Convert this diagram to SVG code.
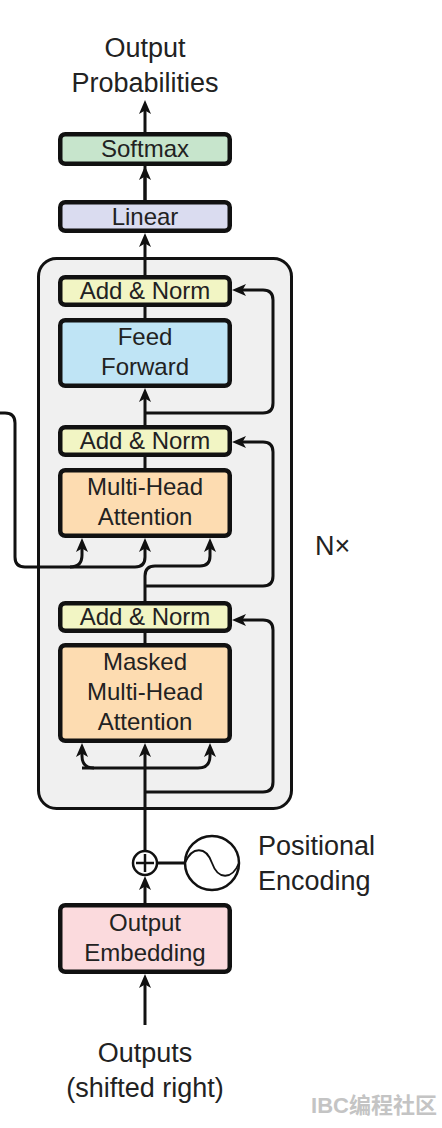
<svg xmlns="http://www.w3.org/2000/svg" width="442" height="1128" viewBox="0 0 442 1128">
<style>
.box{stroke:#111;stroke-width:4.5}
.t{font-family:"Liberation Sans",Arial,sans-serif;font-size:24px;fill:#222;text-anchor:middle}
.big{font-family:"Liberation Sans",Arial,sans-serif;font-size:27px;fill:#222}
.c{fill:none;stroke:#111;stroke-width:3}
.a{marker-end:url(#arr)}
</style>
<defs>
<marker id="arr" viewBox="0 0 14 12" markerWidth="14" markerHeight="12" refX="7" refY="6" orient="auto" markerUnits="userSpaceOnUse">
<path d="M0,0 L14,6 L0,12 L3.5,6 z" fill="#111"/>
</marker>
</defs>
<rect width="442" height="1128" fill="#fff"/>
<g id="decoder-stack">
<rect x="38.5" y="258.5" width="253" height="550" rx="18" fill="#f0f0f0" stroke="#111" stroke-width="3"/>
</g>
<g id="connectors">
<path class="c a" d="M145,200 V107"/>
<path class="c a" d="M145,200 V173"/>
<path class="c a" d="M145,275 V240"/>
<path class="c" d="M145,318 V307"/>
<path class="c a" d="M145,425 V395"/>
<path class="c a" d="M145,413 H263 Q273,413 273,403 V300 Q273,290 263,290 H239"/>
<path class="c" d="M145,468 V457"/>
<path class="c a" d="M145,601 V576 Q145,566 155,566 H200 Q210,566 210,556 V545"/>
<path class="c a" d="M145,586 H263 Q273,586 273,576 V452 Q273,442 263,442 H239"/>
<path class="c a" d="M0,413 H5 Q15,413 15,423 V557 Q15,567 25,567 H135 Q145,567 145,557 V545"/>
<path class="c a" d="M70,567 Q82,567 82,555 V545"/>
<path class="c" d="M145,643 V633"/>
<path class="c a" d="M145,850 V750"/>
<path class="c a" d="M94,768 Q82,768 82,756 V750"/>
<path class="c a" d="M82,768 H198 Q210,768 210,756 V750"/>
<path class="c a" d="M145,792 H263 Q273,792 273,782 V630 Q273,620 263,620 H239"/>
<path class="c" d="M158,863 H185"/>
<path class="c a" d="M145,903 V883"/>
<path class="c a" d="M145,1025 V981"/>
</g>
<g id="output-probabilities">
<text class="big" x="145" y="57" text-anchor="middle">Output</text>
<text class="big" x="145" y="92" text-anchor="middle">Probabilities</text>
</g>
<g id="softmax">
<rect class="box" x="60.25" y="134.25" width="169.5" height="29.5" rx="5" fill="#c7e5cc"/>
<text class="t" x="145" y="157">Softmax</text>
</g>
<g id="linear">
<rect class="box" x="60.25" y="202.25" width="169.5" height="28.5" rx="5" fill="#dadcf0"/>
<text class="t" x="145" y="225">Linear</text>
</g>
<g id="add-norm-1">
<rect class="box" x="60.25" y="277.25" width="169.5" height="27.5" rx="5" fill="#f2f5c4"/>
<text class="t" x="145" y="299">Add &amp; Norm</text>
</g>
<g id="feed-forward">
<rect class="box" x="60.25" y="320.25" width="169.5" height="65.5" rx="5" fill="#bfe4f5"/>
<text class="t" x="145" y="345">Feed</text>
<text class="t" x="145" y="375">Forward</text>
</g>
<g id="add-norm-2">
<rect class="box" x="60.25" y="427.25" width="169.5" height="27.5" rx="5" fill="#f2f5c4"/>
<text class="t" x="145" y="449">Add &amp; Norm</text>
</g>
<g id="multi-head-attention">
<rect class="box" x="60.25" y="470.25" width="169.5" height="65.5" rx="5" fill="#fddcb1"/>
<text class="t" x="145" y="495">Multi-Head</text>
<text class="t" x="145" y="525">Attention</text>
</g>
<g id="add-norm-3">
<rect class="box" x="60.25" y="603.25" width="169.5" height="27.5" rx="5" fill="#f2f5c4"/>
<text class="t" x="145" y="625">Add &amp; Norm</text>
</g>
<g id="masked-multi-head-attention">
<rect class="box" x="60.25" y="645.25" width="169.5" height="95.5" rx="5" fill="#fddcb1"/>
<text class="t" x="145" y="670">Masked</text>
<text class="t" x="145" y="700">Multi-Head</text>
<text class="t" x="145" y="730">Attention</text>
</g>
<g id="nx">
<text class="big" x="315" y="555">N×</text>
</g>
<g id="add-circle">
<circle cx="145" cy="863" r="12" fill="#fff" stroke="#111" stroke-width="2.5"/>
<path d="M145,854 V872 M136,863 H154" stroke="#111" stroke-width="2.5" fill="none"/>
</g>
<g id="positional-encoding">
<circle cx="212" cy="863" r="27" fill="#fff" stroke="#111" stroke-width="2.5"/>
<path d="M185,863 C192,846 206,846 212,863 C218,880 232,880 239,863" fill="none" stroke="#111" stroke-width="1.8"/>
<text class="big" x="258" y="855">Positional</text>
<text class="big" x="258" y="890">Encoding</text>
</g>
<g id="output-embedding">
<rect class="box" x="60.25" y="905.25" width="169.5" height="66.5" rx="5" fill="#fbdadd"/>
<text class="t" x="145" y="931">Output</text>
<text class="t" x="145" y="961">Embedding</text>
</g>
<g id="outputs">
<text class="big" x="145" y="1062" text-anchor="middle">Outputs</text>
<text class="big" x="145" y="1097" text-anchor="middle">(shifted right)</text>
</g>
<g id="watermark">
<text x="437" y="1113" text-anchor="end" font-family="'Liberation Sans','Noto Sans CJK SC',sans-serif" font-size="22" font-weight="bold" fill="#c4c4c4">IBC编程社区</text>
</g>
</svg>
